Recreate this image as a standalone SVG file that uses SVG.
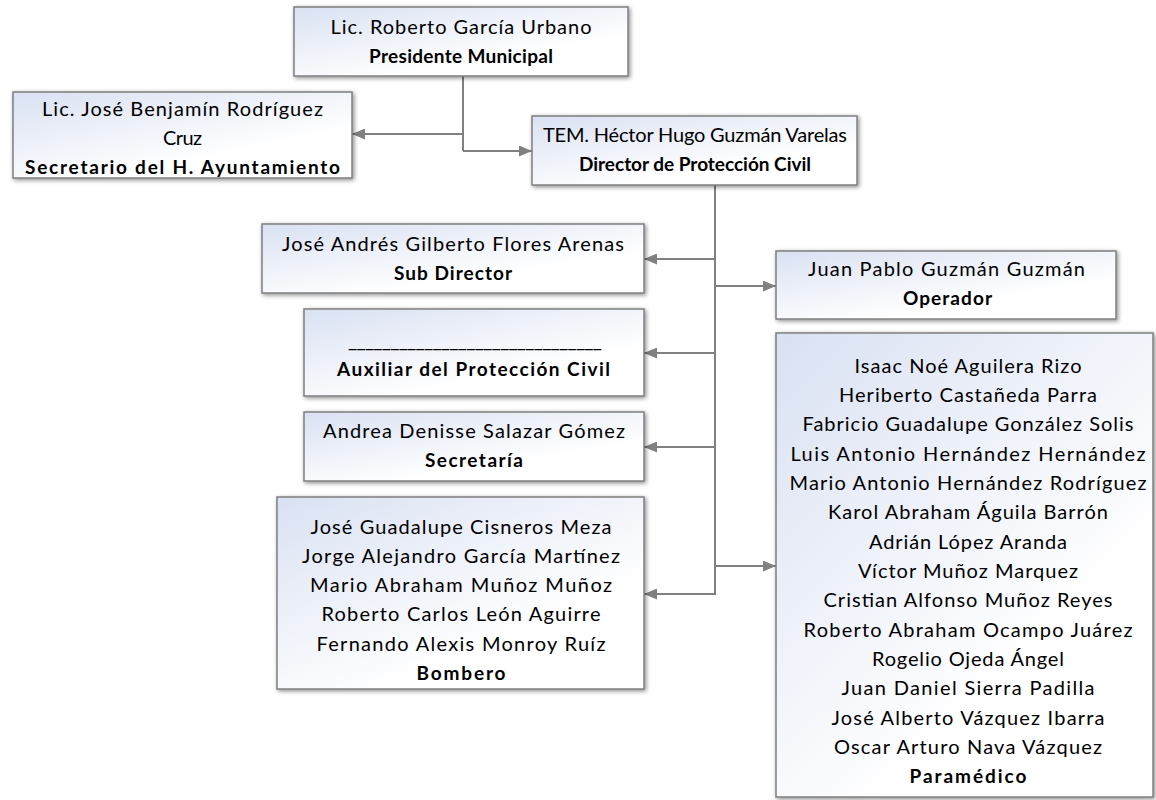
<svg xmlns="http://www.w3.org/2000/svg" width="1156" height="800" viewBox="0 0 1156 800">
<defs>
<linearGradient id="g" x1="0" y1="0" x2="0.8" y2="1">
<stop offset="0" stop-color="#d9e1f2"/>
<stop offset="0.75" stop-color="#ffffff"/>
</linearGradient>
<filter id="sh" x="-10%" y="-10%" width="120%" height="130%">
<feDropShadow dx="1.5" dy="1.5" stdDeviation="2" flood-color="#000" flood-opacity="0.45"/>
</filter>
<marker id="ar" markerUnits="userSpaceOnUse" markerWidth="13" markerHeight="11" refX="13" refY="5.5" orient="auto">
<path d="M0,0 L13,5.5 L0,11 z" fill="#808080"/>
</marker>
<style>
.box{fill:url(#g);stroke:#7f7f7f;stroke-width:1.5;filter:url(#sh)}
.t{font-family:Lato,"Liberation Sans",sans-serif;font-size:20px;fill:#000;text-anchor:middle}
.b{font-weight:bold;font-size:19px}
.c{fill:none;stroke:#808080;stroke-width:2;marker-end:url(#ar)}
.l{fill:none;stroke:#808080;stroke-width:2}
</style>
</defs>
<rect width="1156" height="800" fill="#fff"/>
<g id="connectors">
<path class="l" d="M463,76 V151"/>
<path class="c" d="M463,134 H352"/>
<path class="c" d="M463,151 H532"/>
<path class="c" d="M715,185 V594 H644"/>
<path class="c" d="M715,259 H644"/>
<path class="c" d="M715,353 H644"/>
<path class="c" d="M715,447 H644"/>
<path class="c" d="M715,286 H776"/>
<path class="c" d="M715,566 H776"/>
</g>
<g id="presidente">
<rect class="box" x="294" y="7" width="334" height="69"/>
<text class="t" x="461" y="33.5" textLength="261" lengthAdjust="spacing">Lic. Roberto García Urbano</text>
<text class="t b" x="461" y="62.7" textLength="184" lengthAdjust="spacing">Presidente Municipal</text>
</g>
<g id="secretario">
<rect class="box" x="13" y="92" width="339" height="86"/>
<text class="t" x="182.5" y="115.5" textLength="281" lengthAdjust="spacing">Lic. José Benjamín Rodríguez</text>
<text class="t" x="182.5" y="144.5" textLength="39" lengthAdjust="spacing">Cruz</text>
<text class="t b" x="182.5" y="173.5" textLength="315" lengthAdjust="spacing">Secretario del H. Ayuntamiento</text>
</g>
<g id="director">
<rect class="box" x="532" y="116" width="325" height="69"/>
<text class="t" x="695" y="142" textLength="304" lengthAdjust="spacing">TEM. Héctor Hugo Guzmán Varelas</text>
<text class="t b" x="695" y="171" textLength="232" lengthAdjust="spacing">Director de Protección Civil</text>
</g>
<g id="subdirector">
<rect class="box" x="262" y="224" width="382" height="69"/>
<text class="t" x="453" y="251" textLength="342" lengthAdjust="spacing">José Andrés Gilberto Flores Arenas</text>
<text class="t b" x="453" y="280" textLength="118" lengthAdjust="spacing">Sub Director</text>
</g>
<g id="operador">
<rect class="box" x="776" y="251" width="340" height="68"/>
<text class="t" x="946.5" y="275.5" textLength="277" lengthAdjust="spacing">Juan Pablo Guzmán Guzmán</text>
<text class="t b" x="947.5" y="305" textLength="89" lengthAdjust="spacing">Operador</text>
</g>
<g id="auxiliar">
<rect class="box" x="304" y="309" width="340" height="87"/>
<text class="t" x="475" y="347" textLength="254" lengthAdjust="spacing">______________________________</text>
<text class="t b" x="473.5" y="376" textLength="273" lengthAdjust="spacing">Auxiliar del Protección Civil</text>
</g>
<g id="secretaria">
<rect class="box" x="304" y="412" width="340" height="69"/>
<text class="t" x="474" y="438" textLength="302" lengthAdjust="spacing">Andrea Denisse Salazar Gómez</text>
<text class="t b" x="474" y="467" textLength="98" lengthAdjust="spacing">Secretaría</text>
</g>
<g id="bombero">
<rect class="box" x="277" y="497" width="367" height="192"/>
<text class="t" x="461" y="533.5" textLength="301" lengthAdjust="spacing">José Guadalupe Cisneros Meza</text>
<text class="t" x="461" y="562.8" textLength="318" lengthAdjust="spacing">Jorge Alejandro García Martínez</text>
<text class="t" x="461" y="592.1" textLength="302" lengthAdjust="spacing">Mario Abraham Muñoz Muñoz</text>
<text class="t" x="461" y="621.4" textLength="279" lengthAdjust="spacing">Roberto Carlos León Aguirre</text>
<text class="t" x="461" y="650.7" textLength="289" lengthAdjust="spacing">Fernando Alexis Monroy Ruíz</text>
<text class="t b" x="461" y="680" textLength="89" lengthAdjust="spacing">Bombero</text>
</g>
<g id="paramedico">
<rect class="box" x="776" y="333" width="377" height="464"/>
<text class="t" x="968" y="372.5" textLength="227" lengthAdjust="spacing">Isaac Noé Aguilera Rizo</text>
<text class="t" x="968" y="401.8" textLength="258" lengthAdjust="spacing">Heriberto Castañeda Parra</text>
<text class="t" x="968" y="431.2" textLength="331" lengthAdjust="spacing">Fabricio Guadalupe González Solis</text>
<text class="t" x="968" y="460.5" textLength="355" lengthAdjust="spacing">Luis Antonio Hernández Hernández</text>
<text class="t" x="968" y="489.8" textLength="357" lengthAdjust="spacing">Mario Antonio Hernández Rodríguez</text>
<text class="t" x="968" y="519.2" textLength="280" lengthAdjust="spacing">Karol Abraham Águila Barrón</text>
<text class="t" x="968" y="548.5" textLength="198" lengthAdjust="spacing">Adrián López Aranda</text>
<text class="t" x="968" y="577.8" textLength="220" lengthAdjust="spacing">Víctor Muñoz Marquez</text>
<text class="t" x="968" y="607.1" textLength="289" lengthAdjust="spacing">Cristian Alfonso Muñoz Reyes</text>
<text class="t" x="968" y="636.5" textLength="329" lengthAdjust="spacing">Roberto Abraham Ocampo Juárez</text>
<text class="t" x="968" y="665.8" textLength="192" lengthAdjust="spacing">Rogelio Ojeda Ángel</text>
<text class="t" x="968" y="695.1" textLength="253" lengthAdjust="spacing">Juan Daniel Sierra Padilla</text>
<text class="t" x="968" y="724.5" textLength="273" lengthAdjust="spacing">José Alberto Vázquez Ibarra</text>
<text class="t" x="968" y="753.8" textLength="268" lengthAdjust="spacing">Oscar Arturo Nava Vázquez</text>
<text class="t b" x="968" y="783" textLength="117" lengthAdjust="spacing">Paramédico</text>
</g>
</svg>
